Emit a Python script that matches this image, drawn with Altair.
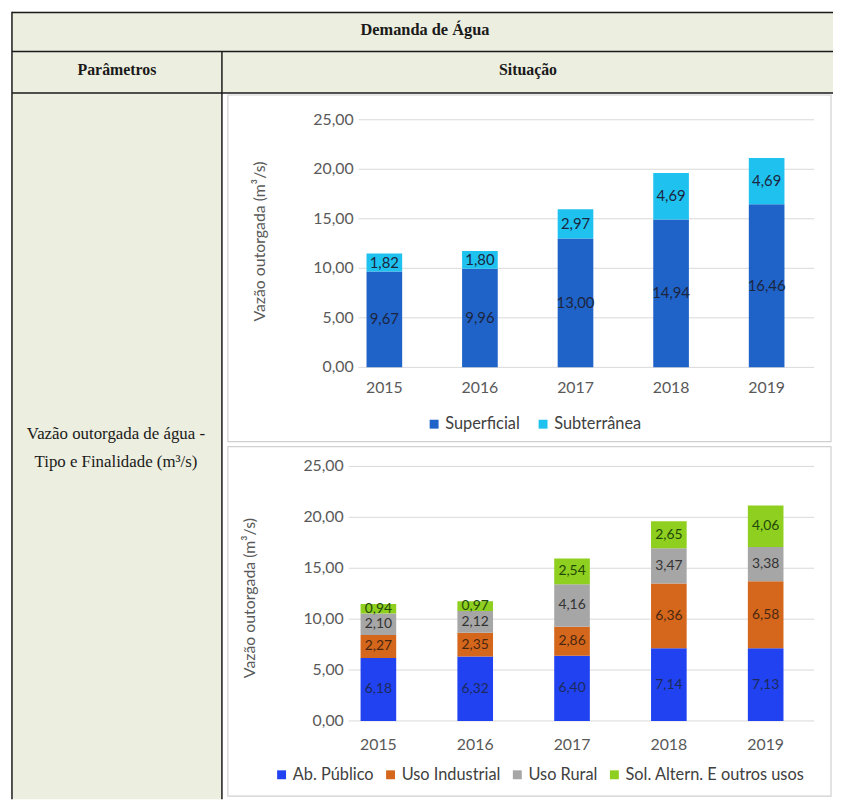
import altair as alt
import pandas as pd

# ---------------- data ----------------
years = ["2015", "2016", "2017", "2018", "2019"]

tipo_series = ["Superficial", "Subterrânea"]
superficial = [9.67, 9.96, 13.00, 14.94, 16.46]
subterranea = [1.82, 1.80, 2.97, 4.69, 4.69]

fin_series = ["Ab. Público", "Uso Industrial", "Uso Rural", "Sol. Altern. E outros usos"]
ab_publico = [6.18, 6.32, 6.40, 7.14, 7.13]
uso_industrial = [2.27, 2.35, 2.86, 6.36, 6.58]
uso_rural = [2.10, 2.12, 4.16, 3.47, 3.38]
sol_altern = [0.94, 0.97, 2.54, 2.65, 4.06]

y_ticks = [0, 5, 10, 15, 20, 25]

axis_title = "Vazão outorgada (m³/s)"
table_title = "Demanda de Água"
col1_head = "Parâmetros"
col2_head = "Situação"
row_label_1 = "Vazão outorgada de água -"
row_label_2 = "Tipo e Finalidade (m³/s)"


def fmt(v):
    return f"{v:.2f}".replace(".", ",")


def stack(names, values):
    rows = []
    for i, yr in enumerate(years):
        base = 0.0
        for name, vals in zip(names, values):
            v = vals[i]
            rows.append(dict(year=yr, serie=name, y0=base, y1=base + v,
                             mid=base + v / 2, label=fmt(v)))
            base += v
    return pd.DataFrame(rows)


df1 = stack(tipo_series, [superficial, subterranea])
df2 = stack(fin_series, [ab_publico, uso_industrial, uso_rural, sol_altern])
ticks_df = pd.DataFrame({"v": y_ticks, "t": [fmt(v) for v in y_ticks]})
yr_df = pd.DataFrame({"year": years})
one = alt.Data(values=[{"k": 1}])

# ---------------- layout helpers ----------------
W, H = 833, 795


def P(ref):  # reference pixel -> chart pixel (page margin 8px)
    return ref - 8


CHART_FONT = "Lato"
SERIF = "Liberation Serif"
AXIS_GREY = "#595959"
BEIGE = "#eceedf"
LINE = "#1a1a1a"
FS = 16

x1_scale = alt.Scale(domain=years, range=[P(339.75), P(822.25)],
                     paddingInner=0.627, paddingOuter=0.3135)
y1_scale = alt.Scale(domain=[0, 25], range=[P(367), P(117)], nice=False, zero=False)
x2_scale = alt.Scale(domain=years, range=[P(333.1), P(821.9)],
                     paddingInner=0.632, paddingOuter=0.316)
y2_scale = alt.Scale(domain=[0, 25], range=[P(724), P(467)], nice=False, zero=False)

layers = []


def rect(x, x2, y, y2, fill, stroke=None, sw=0):
    kw = dict(fill=fill)
    if stroke:
        kw.update(stroke=stroke, strokeWidth=sw)
    return alt.Chart(one).mark_rect(**kw).encode(
        x=alt.value(x), x2=alt.value(x2), y=alt.value(y), y2=alt.value(y2))


def hline(y, x, x2, color=LINE, sw=1.5):
    return alt.Chart(one).mark_rule(color=color, strokeWidth=sw).encode(
        x=alt.value(x), x2=alt.value(x2), y=alt.value(y))


def vline(x, y, y2, color=LINE, sw=1.5):
    return alt.Chart(one).mark_rule(color=color, strokeWidth=sw).encode(
        x=alt.value(x), y=alt.value(y), y2=alt.value(y2))


def label(txt, x, y, size=14, bold=False, font=SERIF, color="#1a1a1a", angle=0):
    kw = dict(font=font, fontSize=size, color=color, align="center", baseline="middle")
    if bold:
        kw["fontWeight"] = "bold"
    if angle:
        kw["angle"] = angle
    return alt.Chart(one).mark_text(**kw).encode(
        x=alt.value(x), y=alt.value(y), text=alt.value(txt))


# table backgrounds
layers.append(rect(4, W, 0, 82, BEIGE))
layers.append(rect(4, 216, 82, H, BEIGE))
layers.append(rect(216, W, 82, H, "white"))
# chart panels
layers.append(rect(222, 831, 84, 434, "white", "#d0d0d0", 1.2))
layers.append(rect(222, 831, 439, 792, "white", "#d0d0d0", 1.2))
# table lines
layers.append(hline(0.75, 4, W))
layers.append(hline(40, 4, W))
layers.append(hline(82, 4, W))
layers.append(vline(4, 0, H))
layers.append(vline(216, 40, H))
# table texts
layers.append(label(table_title, P(429), P(26), size=16.5, bold=True))
layers.append(label(col1_head, P(118), P(67), size=16, bold=True))
layers.append(label(col2_head, P(533), P(67), size=16, bold=True))
layers.append(label(row_label_1, P(117), P(434), size=17))
layers.append(label(row_label_2, P(117), P(463), size=17))


def chart_layers(df, names, colors, text_colors, xs, ys, lab_right, grid_left,
                 year_y, title_x, title_y, leg_x, leg_y, col_pad, fs_bar):
    out = []
    out.append(alt.Chart(ticks_df).mark_rule(color="#d9d9d9", strokeWidth=1).encode(
        x=alt.value(P(grid_left)), x2=alt.value(P(822)),
        y=alt.Y("v:Q", scale=ys, axis=None)))
    out.append(alt.Chart(df).mark_bar().encode(
        x=alt.X("year:N", scale=xs, axis=None),
        y=alt.Y("y0:Q", scale=ys, axis=None),
        y2="y1:Q",
        color=alt.Color("serie:N", scale=alt.Scale(domain=names, range=colors),
                        legend=alt.Legend(orient="none", legendX=P(leg_x), legendY=P(leg_y),
                                          direction="horizontal", title=None,
                                          symbolType="square", symbolSize=81,
                                          symbolStrokeWidth=0, labelFont=CHART_FONT,
                                          labelFontSize=16.5, labelColor="#404040",
                                          labelOffset=3, columnPadding=col_pad,
                                          labelLimit=0, padding=0))))
    out.append(alt.Chart(df).mark_text(font=CHART_FONT, fontSize=fs_bar, baseline="middle").encode(
        x=alt.X("year:N", scale=xs, axis=None),
        y=alt.Y("mid:Q", scale=ys, axis=None),
        text="label:N",
        color=alt.Color("serie:N", scale=alt.Scale(domain=names, range=text_colors),
                        legend=None)))
    out.append(alt.Chart(ticks_df).mark_text(font=CHART_FONT, fontSize=FS, color=AXIS_GREY,
                                             align="right", baseline="middle").encode(
        x=alt.value(P(lab_right)), y=alt.Y("v:Q", scale=ys, axis=None), text="t:N"))
    out.append(alt.Chart(yr_df).mark_text(font=CHART_FONT, fontSize=FS, color=AXIS_GREY,
                                          baseline="middle").encode(
        x=alt.X("year:N", scale=xs, axis=None), y=alt.value(P(year_y)), text="year:N"))
    out.append(label(axis_title, P(title_x), P(title_y), size=FS, font=CHART_FONT,
                     color=AXIS_GREY, angle=270))
    return out


layers += chart_layers(df1, tipo_series, ["#1f63c8", "#1fc2ef"], ["#1c2540", "#1c2540"],
                       x1_scale, y1_scale, 357, 362, 388, 262, 240, 430, 416, 15, 15)
layers += chart_layers(df2, fin_series, ["#2142f0", "#d5671d", "#a6a6a6", "#8fcf1f"],
                       ["#1c2a5c", "#4a2810", "#333333", "#1f4a0a"],
                       x2_scale, y2_scale, 347, 352, 748, 252, 600, 276, 770, 8, 14)

chart = alt.layer(*layers).resolve_scale(
    x="independent", y="independent", color="independent"
).properties(
    width=W, height=H, padding=0, autosize=alt.AutoSizeParams(type="none")
).configure_view(stroke=None)

chart.save("out.html", embed_options={"renderer": "svg", "actions": False})
